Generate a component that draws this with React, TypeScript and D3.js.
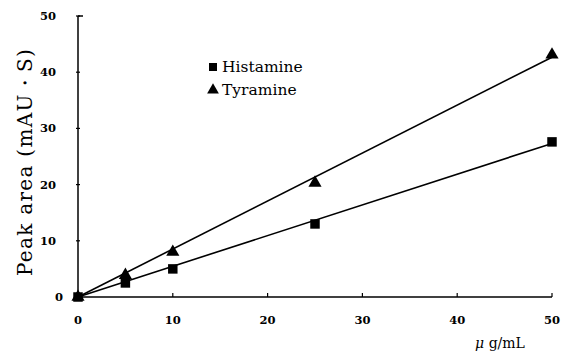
import React from "react";
import * as d3 from "d3";

const concentrations = [0, 5, 10, 25, 50];
const histamine = [0, 2.5, 5, 13, 27.6];
const tyramine = [0, 3.9, 8, 20.3, 43.1];
const xTicks = [0, 10, 20, 30, 40, 50];
const yTicks = [0, 10, 20, 30, 40, 50];

const W = 564;
const H = 353;
const FONT = "'DejaVu Serif', 'Liberation Serif', serif";

function fit(xs: number[], ys: number[]) {
  const mx = d3.mean(xs)!;
  const my = d3.mean(ys)!;
  let sxy = 0, sxx = 0;
  xs.forEach((x, i) => { sxy += (x - mx) * (ys[i] - my); sxx += (x - mx) ** 2; });
  const b = sxy / sxx;
  const a = my - b * mx;
  return (x: number) => a + b * x;
}

export default function App() {
  const x = d3.scaleLinear().domain([0, 50]).range([78, 552]);
  const y = d3.scaleLinear().domain([0, 50]).range([297, 16]);
  const series = [
    { name: "Histamine", values: histamine, marker: "square" },
    { name: "Tyramine", values: tyramine, marker: "triangle" },
  ];
  const sq = d3.symbol().type(d3.symbolSquare).size(90);
  const tri = d3.symbol().type(d3.symbolTriangle).size(75);
  return (
    <svg width={W} height={H} style={{ position: "absolute", left: 0, top: 0, background: "#fff" }}>
      <rect width={W} height={H} fill="#fff" />
      <line x1={x(0)} x2={x(0)} y1={y(50)} y2={y(0)} stroke="#000" strokeWidth={1.5} />
      <line x1={x(0)} x2={x(50)} y1={y(0)} y2={y(0)} stroke="#000" strokeWidth={1.5} />
      <line x1={x(0)} x2={x(0) + 5} y1={y(50)} y2={y(50)} stroke="#000" strokeWidth={1.5} />
      {yTicks.map((t) => (
        <g key={"y" + t}>
          <line x1={x(0) - 2} x2={x(0) + 2} y1={y(t)} y2={y(t)} stroke="#000" strokeWidth={1.2} />
          <text x={t === 0 ? 63 : 56} y={y(t)} dy="0.35em" textAnchor="end" fontFamily={FONT} fontSize={11.5} fontWeight="bold">{t}</text>
        </g>
      ))}
      {xTicks.map((t) => (
        <g key={"x" + t}>
          <line x1={x(t)} x2={x(t)} y1={y(0)} y2={y(0) - 4} stroke="#000" strokeWidth={1.2} />
          <text x={x(t)} y={y(0) + 27} textAnchor="middle" fontFamily={FONT} fontSize={11.5} fontWeight="bold">{t}</text>
        </g>
      ))}
      <text transform={`translate(32,162) rotate(-90)`} textAnchor="middle" fontFamily={FONT} fontSize={20} letterSpacing={1.3}>Peak area (mAU・S)</text>
      <text x={500} y={348} textAnchor="middle" fontFamily={FONT} fontSize={14}>
        <tspan fontStyle="italic">μ</tspan> g/mL
      </text>
      {series.map((s) => {
        const f = fit(concentrations, s.values);
        return (
          <g key={s.name}>
            <line x1={x(0)} y1={y(Math.max(0, f(0)))} x2={x(50)} y2={y(f(50))} stroke="#000" strokeWidth={1.6} />
            {concentrations.map((c, i) => (
              <path key={i} d={(s.marker === "square" ? sq : tri)()!} transform={`translate(${x(c)},${y(s.values[i])})`} fill="#000" />
            ))}
          </g>
        );
      })}
      {series.map((s, i) => (
        <g key={"lg" + s.name} transform={`translate(213,${67 + i * 23})`}>
          <path d={(s.marker === "square" ? d3.symbol().type(d3.symbolSquare).size(64) : d3.symbol().type(d3.symbolTriangle).size(60))()!} fill="#000" />
          <text x={9} y={0} dy="0.35em" fontFamily={FONT} fontSize={15.5}>{s.name}</text>
        </g>
      ))}
    </svg>
  );
}
